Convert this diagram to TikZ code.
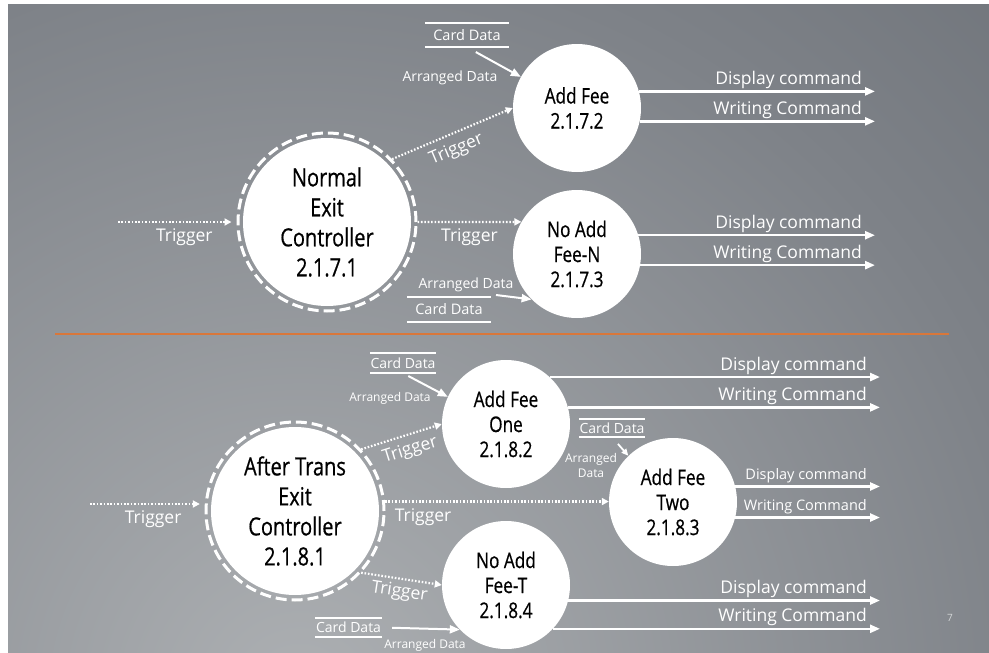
\documentclass[tikz,border=0pt]{standalone}
\usepackage{fontspec}
\setmainfont{Open Sans}
\newfontfamily\circfont{Open Sans}[FakeStretch=0.8, FakeBold=0.6]
\usetikzlibrary{arrows.meta}

\definecolor{glowA}{HTML}{ADB0B3}
\definecolor{glowB}{HTML}{7E8288}
\definecolor{glowC}{HTML}{5B6067}
\definecolor{sepline}{HTML}{D9773A}
\definecolor{pagenum}{HTML}{D4D6D8}

% soft light spot behind the lower half of the slide
\pgfdeclareradialshading{bgglow}{\pgfpoint{0bp}{0bp}}{%
  color(0bp)=(glowA); color(17bp)=(glowB); color(34bp)=(glowC); color(50bp)=(glowC)}

\begin{document}
\begin{tikzpicture}[x=1pt, y=-1pt,
  every node/.style={inner sep=0pt},
  ctrl/.style={circle, minimum size=178pt, draw=white, line width=3pt,
    dash pattern=on 11pt off 5pt,
    path picture={\fill[white] (path picture bounding box.center) circle (84pt);},
    align=center, text=black, font=\circfont\fontsize{25}{30}\selectfont},
  proc/.style={circle, fill=white, minimum size=128pt, align=center,
    text=black, font=\circfont\fontsize{21.5}{25}\selectfont},
  trig/.style={white, line width=2.2pt, dash pattern=on 1.6pt off 1.8pt,
    -{Triangle[length=7pt,width=7pt]}},
  flow/.style={white, line width=2.4pt, -{Triangle[length=10pt,width=8pt]}},
  trl/.style={text=white, font=\fontsize{17.5}{20}\selectfont},
  cmd/.style={text=white, font=\fontsize{17.5}{20}\selectfont, anchor=base east,
    xshift=-12pt, yshift=7pt},
  cmdsm/.style={cmd, font=\fontsize{14.5}{17}\selectfont},
  arr/.style={text=white, font=\fontsize{14}{16}\selectfont},
  arrsm/.style={text=white, font=\fontsize{12}{15}\selectfont, align=center},
  store/.style={text=white, font=\fontsize{14.5}{17}\selectfont,
    append after command={
      (\tikzlastnode.north west) edge[white, line width=2pt] (\tikzlastnode.north east)
      (\tikzlastnode.south west) edge[white, line width=2pt] (\tikzlastnode.south east)}},
  storesm/.style={store, font=\fontsize{14}{16}\selectfont}
]
\useasboundingbox (0,0) rectangle (989,653);
\fill[white] (0,0) rectangle (989,653);

% slide background
\begin{scope}
  \clip (8,4) rectangle (989,653);
  \shade[shading=bgglow] (300,700) circle (1100pt);
\end{scope}

% separator between the two exit cases
\draw[sepline, line width=1.6pt] (55,334) -- (949,334);

% ---------------- normal exit ----------------
\node[ctrl] (nc) at (327,222) {Normal\\Exit\\Controller\\2.1.7.1};
\node[proc] (af) at (577,108) {Add Fee\\2.1.7.2};
\node[proc] (nf) at (577,254) {No Add\\Fee-N\\2.1.7.3};

\coordinate (tin) at (118,222);
\draw[trig, shorten >=5pt] (tin) -- node[trl, below=6pt, pos=0.56] {Trigger} (nc.west);
\draw[trig] (nc.44) -- node[trl, sloped, below=7pt, pos=0.48] {Trigger} (af.180);
\draw[trig] (nc.east) -- node[trl, below=6pt, pos=0.5] {Trigger} (nf.150);

\node[store, minimum width=84pt, minimum height=24pt] (cd1) at (467,35) {Card Data};
\node[arr] (ad1) at (450,78) {Arranged Data};
\draw[flow, line width=2pt, shorten <=10pt] (cd1.south) -- (af.151);

\node[arr] (ad2) at (466,285) {Arranged Data};
\node[store, minimum width=84pt, minimum height=25pt] (cd2) at (449,309.5) {Card Data};
\coordinate (ad2s) at (496,295);
\draw[flow, line width=2pt] (ad2s) -- (nf.225);

\coordinate (xe1) at (875,0);
\draw[flow] (af.15) -- (af.15 -| xe1) node[cmd] {Display command};
\draw[flow] (af.-12) -- (af.-12 -| xe1) node[cmd] {Writing Command};
\draw[flow] (nf.17) -- (nf.17 -| xe1) node[cmd] {Display command};
\draw[flow] (nf.-10) -- (nf.-10 -| xe1) node[cmd] {Writing Command};

% ---------------- exit after transfer ----------------
\node[ctrl] (a1) at (295,511) {After Trans\\Exit\\Controller\\2.1.8.1};
\node[proc] (o1) at (506,424) {Add Fee\\One\\2.1.8.2};
\node[proc] (t2) at (673,502) {Add Fee\\Two\\2.1.8.3};
\node[proc] (nt) at (506,585) {No Add\\Fee-T\\2.1.8.4};

\coordinate (bin) at (90,504);
\draw[trig, shorten >=5pt] (bin) -- node[trl, below=6pt, pos=0.55] {Trigger} (a1.175 |- bin);
\draw[trig] (a1.43) -- node[trl, sloped, below=6pt, pos=0.55] {Trigger} (o1.west);
\draw[trig] (a1.6) -- node[trl, below=6pt, pos=0.17] {Trigger} (a1.6 -| t2.west);
\draw[trig] (a1.-43) -- node[trl, sloped, below=4pt, pos=0.5] {Trigger} (nt.west);

\node[storesm, minimum width=66pt, minimum height=20pt] (cd3) at (403,363) {Card Data};
\node[arrsm] (ad3) at (390,398) {Arranged Data};
\draw[flow, line width=2pt, shorten <=6pt] (cd3.south) -- (o1.155);

\node[storesm, minimum width=66pt, minimum height=18pt] (cd4) at (612,428) {Card Data};
\node[arrsm] (ad4) at (591,465) {Arranged\\Data};
\draw[flow, line width=1.8pt, -{Triangle[length=7pt,width=6pt]}, shorten <=9pt] (cd4.south) -- (t2.134);

\node[storesm, minimum width=67pt, minimum height=19pt] (cd5) at (348.5,627.5) {Card Data};
\node[arrsm] (ad5) at (425,645) {Arranged Data};
\draw[flow, line width=2pt, shorten <=10pt] (cd5.east) -- (nt.224);

\coordinate (xe2) at (880,0);
\draw[flow] (o1.47) -- (o1.47 -| xe2) node[cmd] {Display command};
\draw[flow] (o1.15) -- (o1.15 -| xe2) node[cmd] {Writing Command};
\draw[flow] (t2.14) -- (t2.14 -| xe2) node[cmdsm] {Display command};
\draw[flow] (t2.-14) -- (t2.-14 -| xe2) node[cmdsm] {Writing Command};
\draw[flow] (nt.-14) -- (nt.-14 -| xe2) node[cmd] {Display command};
\draw[flow] (nt.-43) -- (nt.-43 -| xe2) node[cmd] {Writing Command};

% slide number
\node[text=pagenum, font=\fontsize{10}{12}\selectfont] (pg) at (950,618) {7};
\end{tikzpicture}
\end{document}
